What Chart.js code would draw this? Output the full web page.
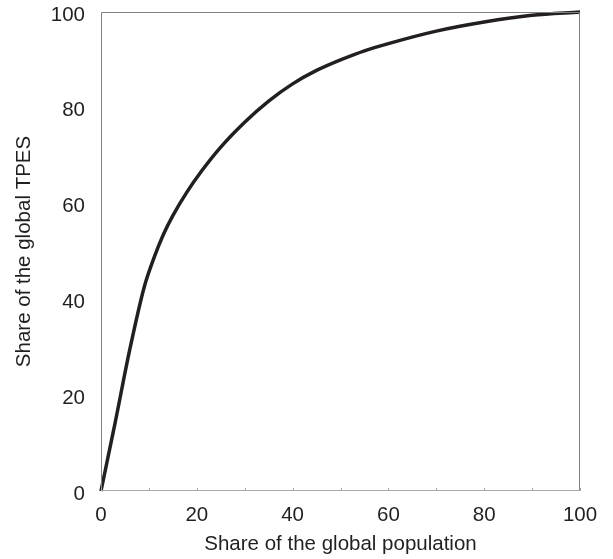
<!DOCTYPE html>
<html>
<head>
<meta charset="utf-8">
<script src="https://cdn.jsdelivr.net/npm/chart.js@4/dist/chart.umd.min.js"></script>
<style>
    html, body { margin: 0; padding: 0; background: #fff; }
    #wrap { width: 613px; height: 559px; }
</style>
</head>
<body>
<div id="wrap"><canvas id="lorenzChart"></canvas></div>
<script>
// Share of global population (%) vs share of global TPES (%)
const populationShare = [0, 3, 6, 9, 11, 13, 15, 18, 21, 25, 30, 35, 40, 45, 50, 55, 60, 70, 80, 90, 100];
const tpesShare = [0, 14.5, 29.5, 42.5, 48.5, 53.5, 57.5, 62.5, 66.8, 71.8, 77, 81.4, 85, 87.8, 90, 91.9, 93.4, 96, 97.9, 99.3, 100];
const xTicks = [0, 20, 40, 60, 80, 100];
const xMinorTicks = [10, 30, 50, 70, 90];

const FONT = "'Liberation Sans', Arial, Helvetica, sans-serif";
const TEXT = '#231f20';

// frame around the plot + small inward ticks on the bottom axis
const framePlugin = {
    id: 'frame',
    afterDraw: (chart) => {
        const { ctx, chartArea: a, scales } = chart;
        ctx.save();
        ctx.lineWidth = 1;
        ctx.strokeStyle = '#808080';
        ctx.beginPath();
        ctx.moveTo(a.left + 0.5, a.bottom);
        ctx.lineTo(a.left + 0.5, a.top + 0.5);
        ctx.lineTo(a.right - 0.5, a.top + 0.5);
        ctx.lineTo(a.right - 0.5, a.bottom);
        ctx.stroke();
        ctx.strokeStyle = '#a8a8a8';
        ctx.beginPath();
        ctx.moveTo(a.left, a.bottom - 0.5);
        ctx.lineTo(a.right, a.bottom - 0.5);
        xTicks.concat(xMinorTicks).forEach(v => {
            const px = Math.round(scales.x.getPixelForValue(v)) + 0.5;
            ctx.moveTo(px, a.bottom);
            ctx.lineTo(px, a.bottom - 3);
        });
        ctx.stroke();
        ctx.restore();
    }
};

new Chart(document.getElementById('lorenzChart'), {
    type: 'line',
    data: {
        datasets: [{
            data: populationShare.map((x, i) => ({ x: x, y: tpesShare[i] })),
            borderColor: TEXT,
            borderWidth: 3.5,
            pointRadius: 0,
            fill: false,
            cubicInterpolationMode: 'monotone',
            clip: false
        }]
    },
    options: {
        responsive: true,
        maintainAspectRatio: false,
        animation: false,
        layout: { padding: { top: 12, right: 33, bottom: 0, left: 0 } },
        plugins: {
            legend: { display: false },
            tooltip: { enabled: false }
        },
        scales: {
            x: {
                type: 'linear',
                min: 0,
                max: 100,
                afterBuildTicks: (scale) => { scale.ticks = xTicks.map(v => ({ value: v })); },
                afterFit: (scale) => {
                    scale.height = 68;
                    scale.paddingLeft = 0;
                    scale.paddingRight = 0;
                },
                grid: { display: false, drawTicks: false },
                border: { display: false },
                ticks: { padding: 12, color: TEXT, font: { family: FONT, size: 20.5 }, maxRotation: 0 },
                title: {
                    display: true,
                    text: 'Share of the global population',
                    color: TEXT,
                    font: { family: FONT, size: 20.5 },
                    padding: { top: 0, bottom: 2 }
                }
            },
            y: {
                min: 0,
                max: 100,
                afterBuildTicks: (scale) => { scale.ticks = xTicks.map(v => ({ value: v })); },
                afterFit: (scale) => {
                    scale.width = 101;
                    scale.paddingTop = 0;
                    scale.paddingBottom = 0;
                },
                grid: { display: false, drawTicks: false },
                border: { display: false },
                ticks: { padding: 16, labelOffset: 3, color: TEXT, font: { family: FONT, size: 20.5 } },
                title: {
                    display: true,
                    text: 'Share of the global TPES',
                    color: TEXT,
                    font: { family: FONT, size: 20.5 },
                    padding: { top: 12, bottom: 0 }
                }
            }
        }
    },
    plugins: [framePlugin]
});
</script>
</body>
</html>
